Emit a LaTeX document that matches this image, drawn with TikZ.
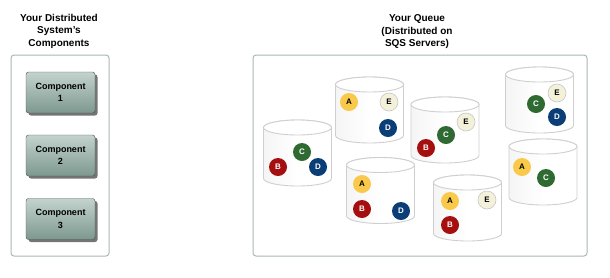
\documentclass[tikz,border=0pt]{standalone}
\usepackage{fontspec}
\setmainfont{Liberation Sans}
\usetikzlibrary{shadows}
\definecolor{frameline}{HTML}{A8B8B6}
\definecolor{comptop}{HTML}{C3D3CD}
\definecolor{compbot}{HTML}{7D988F}
\definecolor{srvline}{HTML}{CFCFCF}
\definecolor{msgyellow}{HTML}{F8C94A}
\definecolor{msgred}{HTML}{A50F0F}
\definecolor{msggreen}{HTML}{2F6A33}
\definecolor{msgblue}{HTML}{0B3D77}
\definecolor{msgcream}{HTML}{F4F1DA}
\tikzset{
  frame/.style={draw=frameline, line width=1pt, rounded corners=3pt},
  title/.style={align=center, font=\bfseries\fontsize{10}{12.5}\selectfont},
  comp/.style={draw=gray!60!black, line width=0.4pt, rounded corners=2.5pt,
    top color=comptop, bottom color=compbot, minimum width=69pt, minimum height=41pt,
    align=center, font=\bfseries\fontsize{9}{12.5}\selectfont,
    drop shadow={shadow xshift=2.5pt, shadow yshift=-2.5pt, fill=gray!80!black, opacity=0.9}},
  srvedge/.style={draw=srvline, line width=0.9pt},
  server/.pic={
    \path[srvedge, left color=gray!8, right color=white, middle color=white]
      (-34,-25.5) -- (-34,25.5) arc (180:360:34pt and 7.5pt) -- (34,-25.5)
      arc (0:180:34pt and 7.5pt) -- cycle;
    \path[srvedge, fill=white] (0,-25.5) ellipse (34pt and 7.5pt);
  },
  msg/.style={circle, inner sep=0pt, minimum size=18pt, font=\bfseries\fontsize{8}{8}\selectfont},
  msgA/.style={msg, fill=msgyellow, text=black},
  msgB/.style={msg, fill=msgred, text=white},
  msgC/.style={msg, fill=msggreen, text=white},
  msgD/.style={msg, fill=msgblue, text=white},
  msgE/.style={msg, fill=msgcream, draw=gray!45, line width=0.6pt, text=black},
}
\begin{document}
\begin{tikzpicture}[x=1pt, y=-1pt]
  \useasboundingbox (0,0) rectangle (610,277);
  % components
  \node[title] (systitle) at (59,31) {Your Distributed\\System's\\Components};
  \draw[frame] (11,55) rectangle (109,256);
  \node[comp] (comp1) at (60.5,92.5) {Component\\1};
  \node[comp] (comp2) at (60.5,155.5) {Component\\2};
  \node[comp] (comp3) at (60.5,219) {Component\\3};
  % queue
  \node[title] (queuetitle) at (417,32) {Your Queue\\(Distributed on\\SQS Servers)};
  \draw[frame] (253,55) rectangle (587,256);
  \pic (srv1) at (297.5,153) {server};
  \pic (srv2) at (369.5,110) {server};
  \pic (srv3) at (445,130) {server};
  \pic (srv4) at (539.5,100) {server};
  \pic (srv5) at (543,172) {server};
  \pic (srv6) at (380.5,190.5) {server};
  \pic (srv7) at (467.5,208) {server};
  \foreach \m/\x/\y [count=\i] in {C/302/152, B/278/167, D/318/167,
      A/349/102, E/389/102, D/388/128,
      E/466/122, C/446/135, B/426/148,
      E/557/93, C/536/104, D/557/117,
      A/522/167, C/546/178,
      A/362/184, B/362/209, D/401/211,
      A/450/201, E/487/200, B/450/225}
    \node[msg\m] (msg\i) at (\x,\y) {\m};
\end{tikzpicture}
\end{document}
